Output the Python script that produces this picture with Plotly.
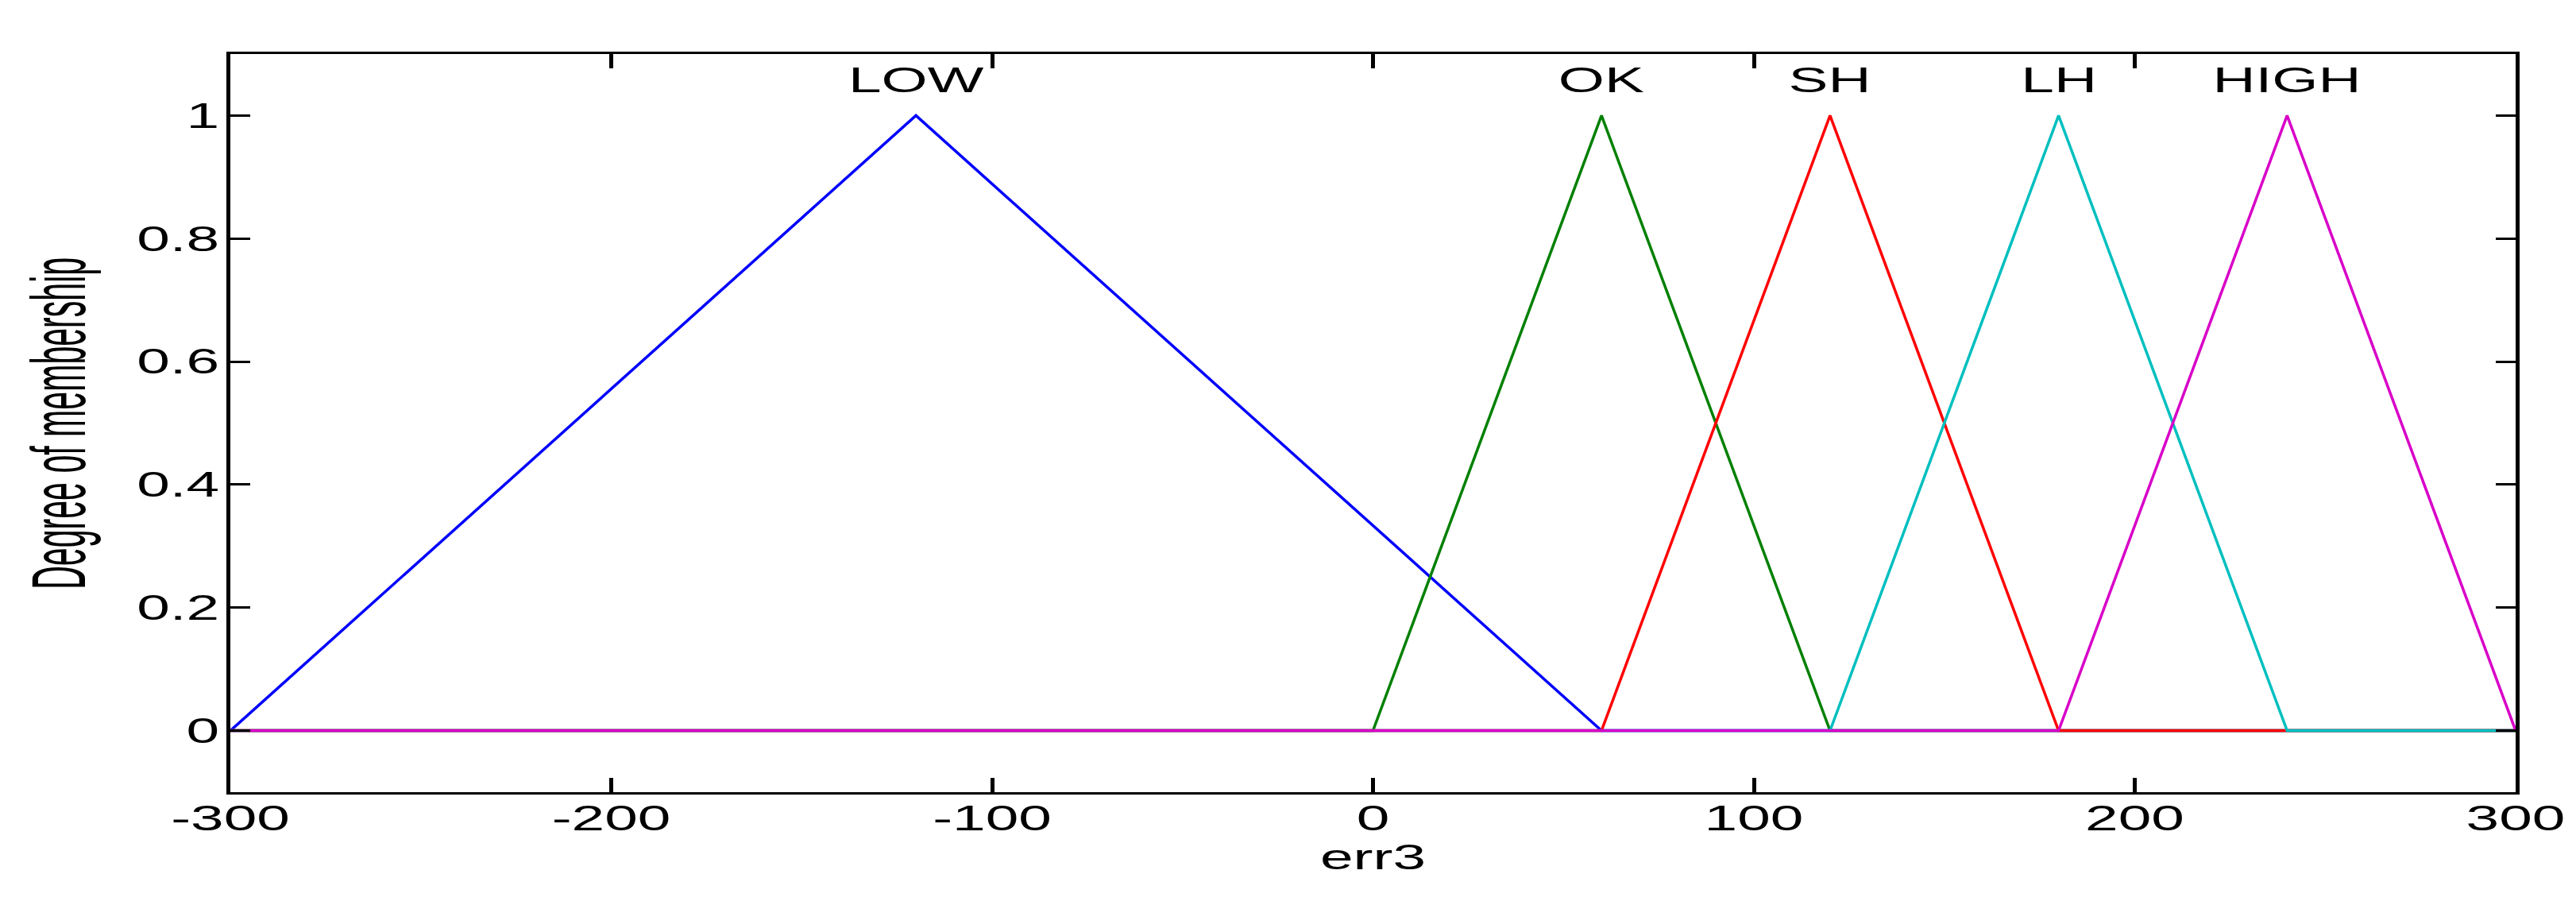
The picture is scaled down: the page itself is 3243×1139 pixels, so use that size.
import plotly.graph_objects as go

# ---- data (membership functions of input "err3") ----
mf_names = ["LOW", "OK", "SH", "LH", "HIGH"]
low_x = [-300, -120, 60, 300]
low_y = [0, 1, 0, 0]
ok_x = [-300, 0, 60, 120, 300]
ok_y = [0, 0, 1, 0, 0]
sh_x = [-300, 60, 120, 180, 300]
sh_y = [0, 0, 1, 0, 0]
lh_x = [-300, 120, 180, 240, 300]
lh_y = [0, 0, 1, 0, 0]
high_x = [-300, 180, 240, 300]
high_y = [0, 0, 1, 0]

x_ticks = [-300, -200, -100, 0, 100, 200, 300]
x_ticktext = ["-300", "-200", "-100", "0", "100", "200", "300"]
y_ticks = [0, 0.2, 0.4, 0.6, 0.8, 1]
y_ticktext = ["0", "0.2", "0.4", "0.6", "0.8", "1"]

series_x = [low_x, ok_x, sh_x, lh_x, high_x]
series_y = [low_y, ok_y, sh_y, lh_y, high_y]
colors = ["#0000FF", "#008000", "#FF0000", "#00BFBF", "#D800C8"]

FONT = "Liberation Sans, Arial, sans-serif"

fig = go.Figure()
for name, xs, ys, c in zip(mf_names, series_x, series_y, colors):
    fig.add_trace(go.Scatter(x=xs, y=ys, mode="lines", name=name,
                             line=dict(color=c, width=3.5), showlegend=False,
                             hoverinfo="skip"))
    peak = xs[ys.index(max(ys))]
    fig.add_annotation(x=peak, y=1.058, xref="x", yref="y", text=name,
                       showarrow=False, xanchor="center", yanchor="middle",
                       font=dict(family=FONT, size=44, color="black"))

fig.add_annotation(x=-0.0754, y=0.5, xref="paper", yref="paper",
                   text="Degree of membership", textangle=-90, showarrow=False,
                   xanchor="center", yanchor="middle",
                   font=dict(family=FONT, size=44, color="black"))

fig.update_layout(
    width=3243, height=1139, autosize=False,
    margin=dict(l=282, r=84, t=60, b=150),
    paper_bgcolor="white", plot_bgcolor="white",
    font=dict(family=FONT, size=44, color="black"),
    xaxis=dict(range=[-300, 300], tickvals=x_ticks, ticktext=x_ticktext,
               ticks="inside", ticklen=18, tickwidth=5, tickcolor="black",
               showline=True, linewidth=3, linecolor="black", mirror="allticks",
               showgrid=False, zeroline=False, ticklabelstandoff=-8,
               title=dict(text="err3", font=dict(family=FONT, size=44), standoff=10),
               tickfont=dict(family=FONT, size=44, color="black")),
    yaxis=dict(range=[-0.1, 1.1], tickvals=y_ticks, ticktext=y_ticktext,
               ticks="inside", ticklen=25, tickwidth=3, tickcolor="black",
               showline=True, linewidth=5, linecolor="black", mirror="allticks",
               showgrid=False, zeroline=False,
               tickfont=dict(family=FONT, size=44, color="black")),
)

post = """
var gd = document.getElementById('{plot_id}');
function stretchText(){
  var sx = 1.7;
  gd.querySelectorAll('g.xtick text, g.ytick text, text.annotation-text, text.xtitle').forEach(function(t){
    if (t.getAttribute('data-st')) return;
    var w = t.getComputedTextLength();
    if (t.textContent === 'Degree of membership') {
      t.setAttribute('textLength', 418);
      t.setAttribute('lengthAdjust', 'spacingAndGlyphs');
      var bb = t.getBBox();
      var cy = bb.y + bb.height / 2;
      t.setAttribute('transform', 'translate(0,' + cy + ') scale(1,2.2) translate(0,' + (-cy) + ')');
    } else {
      t.setAttribute('textLength', w * sx);
      t.setAttribute('lengthAdjust', 'spacingAndGlyphs');
    }
    t.setAttribute('data-st', '1');
  });
}
stretchText();
"""

fig.write_html("out.html", post_script=post, config={"responsive": False, "displayModeBar": False})
